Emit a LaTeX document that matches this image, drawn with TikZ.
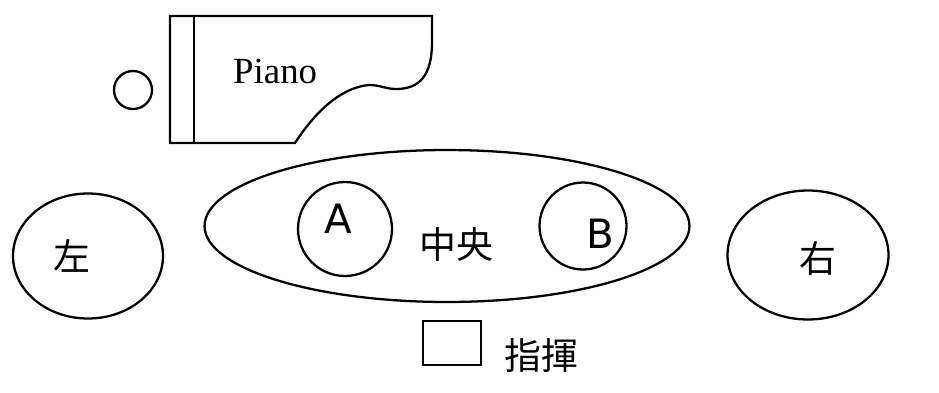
\documentclass[tikz,border=0pt]{standalone}
\usepackage{fontspec}
\setmainfont{Liberation Serif}
\newfontfamily\cjk{Noto Sans CJK JP}
\newfontfamily\latinsans{DejaVu Sans}
\usetikzlibrary{shapes.geometric}

\begin{document}
\begin{tikzpicture}[x=0.02cm, y=-0.02cm, line width=1.3pt,
    area/.style={draw, ellipse, inner sep=0pt},
    seat/.style={draw, circle, inner sep=0pt},
    zh/.style={font=\cjk\fontsize{21pt}{25pt}\selectfont},
    letter/.style={font=\latinsans\fontsize{23pt}{27pt}\selectfont}]

  \useasboundingbox (0,0) rectangle (939,392);

  % ── Piano and its stool ──────────────────────────────────────
  \draw (170,16) -- (432,16) -- (432,42)
     .. controls (432,75) and (420,89) .. (396,89)
     .. controls (386,89) and (380,85) .. (369,85)
     .. controls (336,88) and (310,120) .. (295,143)
     -- (170,143) -- cycle;
  \draw (194,16) -- (194,143);
  \node[font=\fontsize{21pt}{25pt}\selectfont, inner sep=0pt, anchor=base west] (piano) at (232,83) {Piano};
  \node[seat, minimum size=0.76cm] (stool) at (133,90) {};

  % ── Stage areas ──────────────────────────────────────────────
  \node[area, minimum width=3cm, minimum height=2.5cm]     (left)   at (88,256)  {};
  \node[area, minimum width=9.7cm, minimum height=3.04cm]  (centre) at (447,226) {};
  \node[area, minimum width=3.22cm, minimum height=2.58cm] (right)  at (808,255) {};

  % Soloists inside the centre
  \node[seat, minimum size=1.88cm] (A) at (345,229) {};
  \node[seat, minimum size=1.74cm] (B) at (583,226) {};

  % Conductor
  \node[draw, inner sep=0pt, minimum width=1.16cm, minimum height=0.88cm] (podium) at (452,343) {};

  % ── Labels ───────────────────────────────────────────────────
  \node[zh]     (leftlab)   at (72,256)  {左};
  \node[zh]     (centrelab) at (456,244) {中央};
  \node[zh]     (rightlab)  at (818,258) {右};
  \node[letter] (Alab)      at (338,219) {A};
  \node[letter] (Blab)      at (600,234) {B};
  \node[zh]     (podiumlab) at (541,355) {指揮};

\end{tikzpicture}
\end{document}
